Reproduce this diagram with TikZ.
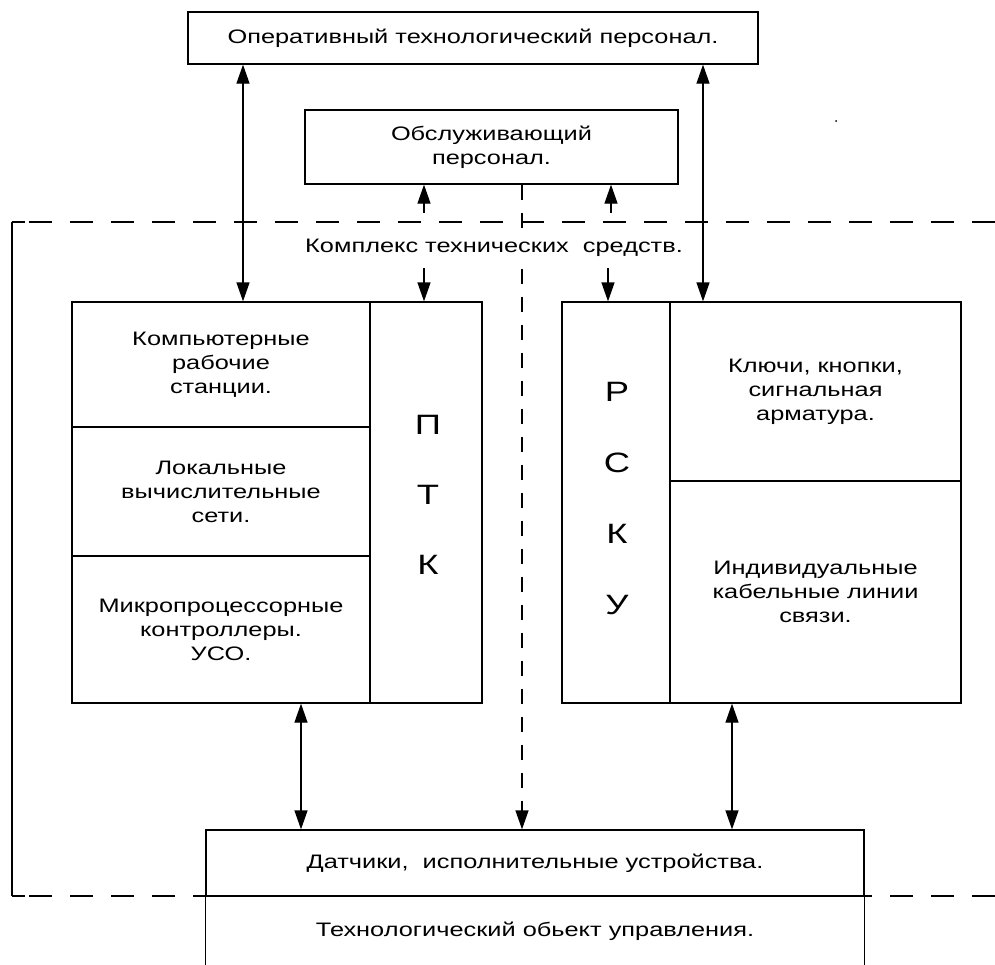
\documentclass[tikz,border=0pt]{standalone}
\usepackage{fontspec}
\setmainfont{Liberation Sans}[FakeStretch=1.3]
\usetikzlibrary{arrows.meta}

\begin{document}
\begin{tikzpicture}[x=1pt, y=-1pt, line width=1.3pt,
  every node/.style={font=\fontsize{19.5}{24}\selectfont, inner sep=0pt},
  cell/.style={draw, rectangle, align=center},
  bigletters/.style={align=center},
  tip/.style={-{Triangle[length=19pt,width=13pt]}},
  dbl/.style={{Triangle[length=19pt,width=13pt]}-{Triangle[length=19pt,width=13pt]}},
  framedash/.style={dash pattern=on 23pt off 18pt},
  linkdash/.style={dash pattern=on 15pt off 13pt},
]
\useasboundingbox[fill=white] (0,0) rectangle (995,964);

% personnel boxes
\node[cell, minimum width=570, minimum height=52] (oper) at (473,38) {Оперативный технологический персонал.};
\node[cell, minimum width=373, minimum height=74] (obsl) at (491.5,147) {Обслуживающий\\персонал.};

% boundary of the hardware complex (dashes run from the right edge)
\coordinate (fr0) at (12,222);
\coordinate (fr1) at (995,222);
\coordinate (fr2) at (12,896);
\coordinate (fr3) at (995,896);
\draw[framedash] (fr1) -- (fr0);
\draw (fr0) -- (fr2);
\draw (fr0) -- ++(13,0);
\draw[framedash] (fr3) -- (fr2);
\draw (fr2) -- ++(13,0);

% software/hardware complex (left block)
\node[cell, minimum width=298, minimum height=125] (kws) at (221,364.5) {Компьютерные\\рабочие\\станции.};
\node[cell, minimum width=298, minimum height=129] (lvs) at (221,491.5) {Локальные\\вычислительные\\сети.};
\node[cell, minimum width=298, minimum height=147] (mpc) at (221,629.5) {Микропроцессорные\\контроллеры.\\УСО.};
\node[cell, minimum width=112, minimum height=401] (ptk) at (426,502.5) {};
\node[bigletters, font=\fontsize{28}{70}\selectfont] (ptkt) at (428,495) {П\\Т\\К};

% backup control facilities (right block)
\node[cell, minimum width=108, minimum height=401] (rsku) at (616,502.5) {};
\node[bigletters, font=\fontsize{28}{71}\selectfont] (rskut) at (617,498.5) {Р\\С\\К\\У};
\node[cell, minimum width=291, minimum height=179] (keys) at (815.5,391.5) {Ключи, кнопки,\\сигнальная\\арматура.};
\node[cell, minimum width=291, minimum height=222] (cabl) at (815.5,592) {Индивидуальные\\кабельные линии\\связи.};

% field devices and the controlled object
\node[cell, minimum width=658, minimum height=66] (sens) at (535,863) {Датчики,\ \ исполнительные устройства.};
\node[minimum width=658, minimum height=68, anchor=north] (obj) at (sens.south) {Технологический обьект управления.};
\draw (obj.north west) -- (obj.south west) (obj.north east) -- (obj.south east);

% connector positions
\coordinate (xa) at (243,0);
\coordinate (xb) at (703,0);
\coordinate (xc) at (301,0);
\coordinate (xd) at (522,0);
\coordinate (xe) at (732,0);
\coordinate (ua) at (424,213);
\coordinate (ub) at (611,213);
\coordinate (da) at (424,268);
\coordinate (db) at (608,268);

% connectors
\draw[dbl] (oper.south -| xa) -- (kws.north -| xa);
\draw[dbl] (oper.south -| xb) -- (keys.north -| xb);
\draw[tip] (ua) -- (obsl.south -| ua);
\draw[tip] (ub) -- (obsl.south -| ub);
\draw[tip] (da) -- (ptk.north -| da);
\draw[tip] (db) -- (rsku.north -| db);
\draw[tip, linkdash] (obsl.south -| xd) -- (sens.north -| xd);
\draw[dbl] (mpc.south -| xc) -- (sens.north -| xc);
\draw[dbl] (cabl.south -| xe) -- (sens.north -| xe);

% title of the complex, set over the dashed link
\node[fill=white, inner sep=1pt] (kts) at (494,248) {Комплекс технических\ \ средств.};

% stray dot
\fill (836,121) circle (1pt);
\end{tikzpicture}
\end{document}
